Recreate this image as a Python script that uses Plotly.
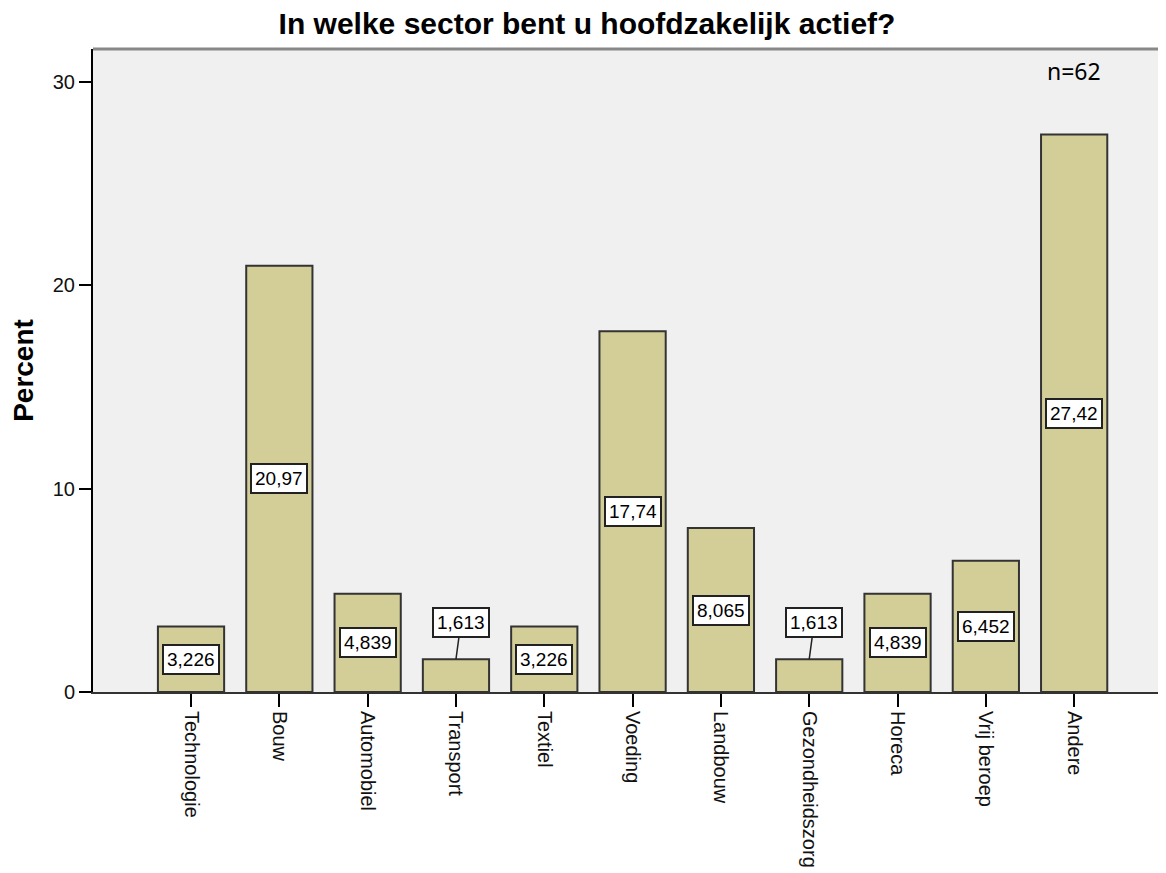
import plotly.graph_objects as go

sectoren = ["Technologie", "Bouw", "Automobiel", "Transport", "Textiel", "Voeding",
            "Landbouw", "Gezondheidszorg", "Horeca", "Vrij beroep", "Andere"]
percent = [3.226, 20.97, 4.839, 1.613, 3.226, 17.74, 8.065, 1.613, 4.839, 6.452, 27.42]
labels = ["3,226", "20,97", "4,839", "1,613", "3,226", "17,74", "8,065", "1,613", "4,839", "6,452", "27,42"]

fig = go.Figure(go.Bar(
    x=list(range(len(sectoren))),
    y=percent,
    width=0.75,
    marker=dict(color="#d3ce97", line=dict(color="#333333", width=2)),
    hoverinfo="skip",
))

annots = []
for i, (v, lab) in enumerate(zip(percent, labels)):
    a = dict(x=i, text=lab, xref="x", yref="y", bgcolor="white",
             bordercolor="#222222", borderwidth=2, borderpad=3,
             font=dict(family="Liberation Sans", size=19, color="black"))
    if v < 3:
        a.update(y=v, showarrow=True, arrowhead=0, arrowwidth=1.5, arrowcolor="#222222",
                 ax=5, ay=-37, standoff=0)
    else:
        a.update(y=v / 2, showarrow=False)
    annots.append(a)

annots.append(dict(x=0.914, y=0.966, xref="paper", yref="paper", text="n=62",
                   xanchor="center", yanchor="middle", showarrow=False,
                   font=dict(family="Noto Sans", size=23, color="black")))

fig.update_layout(
    width=1158, height=865,
    margin=dict(l=85, r=0, t=41, b=181),
    paper_bgcolor="white", plot_bgcolor="#f0f0f0",
    showlegend=False,
    title=dict(text="<b>In welke sector bent u hoofdzakelijk actief?</b>", x=0.5, xanchor="center",
               xref="container", y=0.982, yanchor="middle",
               font=dict(family="Liberation Sans", size=30, color="black")),
    annotations=annots,
    shapes=[dict(type="line", xref="paper", yref="paper", x0=0, x1=1, y0=1, y1=1,
                 line=dict(color="#888888", width=3))],
    font=dict(family="Liberation Sans", color="black"),
)
fig.update_xaxes(
    range=[-1.11, 11.04], tickmode="array", tickvals=list(range(len(sectoren))), ticktext=sectoren,
    tickangle=90, ticks="outside", ticklen=13, tickcolor="black", tickwidth=2,
    showline=True, linecolor="#333333", linewidth=2, showgrid=False, zeroline=False,
    tickfont=dict(size=20, family="Liberation Sans", color="#111111"),
)
fig.update_yaxes(
    range=[0, 31.63], tickvals=[0, 10, 20, 30], ticks="outside", ticklen=12, tickcolor="black",
    tickwidth=2, showline=True, linecolor="black", linewidth=2, showgrid=False, zeroline=False,
    tickfont=dict(size=20, family="Liberation Sans", color="#111111"),
    title=dict(text="<b>Percent</b>", font=dict(size=28, family="Liberation Sans"), standoff=22),
)

fig.write_html("out.html")
